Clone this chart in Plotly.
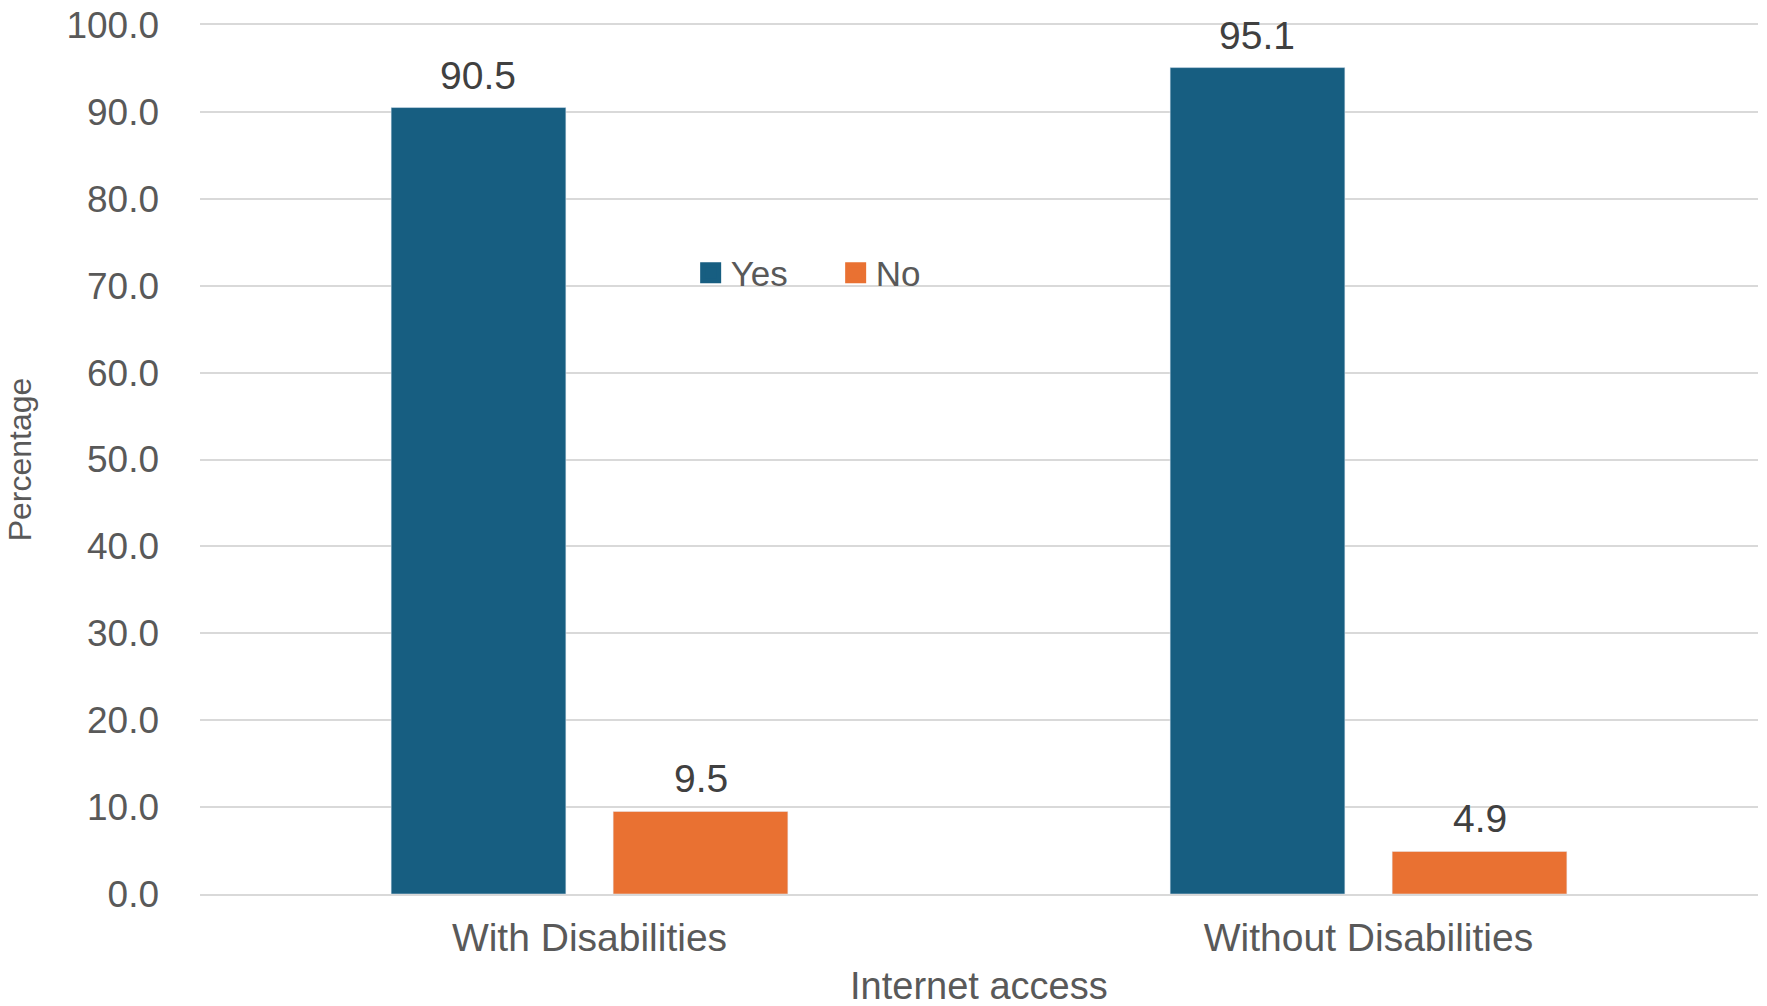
import plotly.graph_objects as go

categories = ["With Disabilities", "Without Disabilities"]
yes_values = [90.5, 95.1]
no_values = [9.5, 4.9]
y_ticks = [0, 10, 20, 30, 40, 50, 60, 70, 80, 90, 100]

BLUE = "#175E81"
ORANGE = "#E97132"
TEXT = "#595959"
LABEL = "#404040"
GRID = "#D9D9D9"

W, H = 1767, 1006
ML, MR, MT, MB = 200, 9, 25, 112
BARGAP = 0.43

fig = go.Figure()
fig.add_trace(go.Bar(name="Yes", x=categories, y=yes_values, marker_color=BLUE,
                     showlegend=False))
fig.add_trace(go.Bar(name="No", x=categories, y=no_values, marker_color=ORANGE,
                     showlegend=False))
# legend entries with larger square swatches
for name, col in [("Yes", BLUE), ("No", ORANGE)]:
    fig.add_trace(go.Scatter(name=name, x=[None], y=[None], mode="markers",
                             marker=dict(symbol="square", size=16, color=col,
                                         line=dict(color=col, width=5))))

# data labels above each bar (offset of each bar within its group)
cat_px = (W - ML - MR) / len(categories)
half_slot = cat_px * (1 - BARGAP) / 4
for series, sign in [(yes_values, -1), (no_values, 1)]:
    for c, v in zip(categories, series):
        fig.add_annotation(x=c, y=v, xref="x", yref="y", text=f"{v:.1f}",
                           showarrow=False, yanchor="bottom", xanchor="center",
                           xshift=sign * half_slot, yshift=9,
                           font=dict(size=39, color=LABEL, family="Liberation Sans"))

# x-axis title (placed below the tick labels)
fig.add_annotation(x=0.5, y=0, xref="paper", yref="paper", text="Internet access",
                   showarrow=False, xanchor="center", yanchor="bottom", yshift=-(MB + 3),
                   font=dict(size=38, color=TEXT, family="Liberation Sans"))

fig.update_layout(
    width=W, height=H,
    margin=dict(l=ML, r=MR, t=MT, b=MB),
    paper_bgcolor="white", plot_bgcolor="white",
    barmode="group", bargap=BARGAP, bargroupgap=0.213,
    font=dict(family="Liberation Sans", color=TEXT, size=32),
    legend=dict(orientation="h", x=0.408, y=0.7146, xanchor="center", yanchor="middle",
                font=dict(size=35, color=TEXT), bgcolor="rgba(0,0,0,0)",
                itemwidth=30, entrywidth=100, traceorder="normal"),
    xaxis=dict(tickfont=dict(size=39, color=TEXT), automargin=False,
               showline=True, mirror=True, linecolor=GRID, linewidth=1.5,
               ticks="", ticklabelstandoff=8),
    yaxis=dict(title=dict(text="Percentage", font=dict(size=32, color=TEXT), standoff=25),
               range=[0, 100], tickvals=y_ticks, ticktext=[f"{v:.1f}" for v in y_ticks],
               tickfont=dict(size=37, color=TEXT), gridcolor=GRID, gridwidth=1.5,
               zeroline=False, ticks="", ticklabelstandoff=40, automargin=False,
               ticklabeloverflow="allow"),
)

# remove the default 8px page margin so the figure fills the window exactly
fig.write_html("out.html", post_script="document.body.style.margin='0';",
               config={"displayModeBar": False})
